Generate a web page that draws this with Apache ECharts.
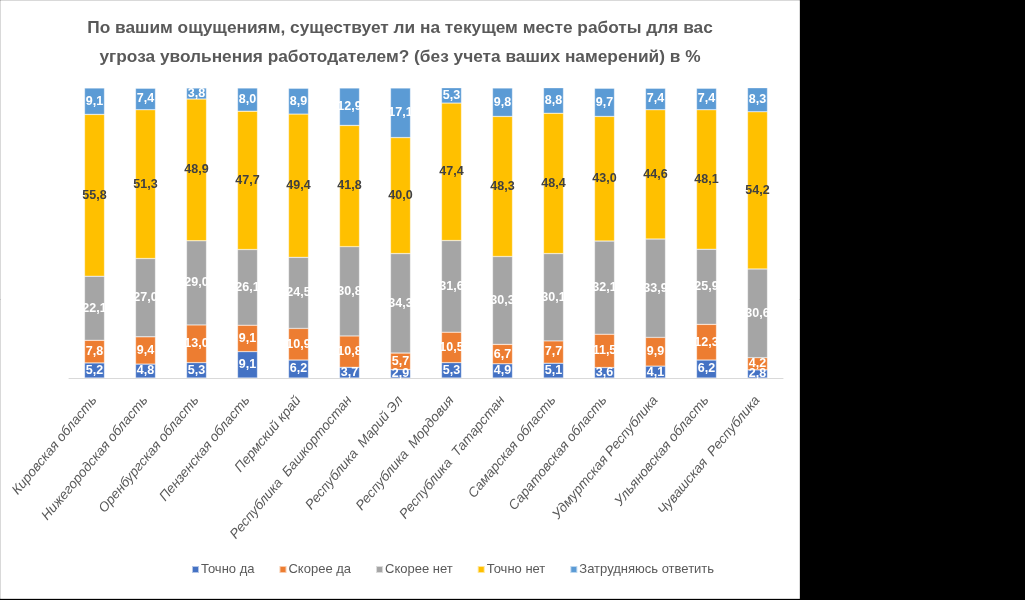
<!DOCTYPE html>
<html>
<head>
<meta charset="utf-8">
<script src="https://cdn.jsdelivr.net/npm/echarts@6/dist/echarts.min.js"></script>
<style>
  html, body { margin: 0; padding: 0; background: #000; }
  #chart { position: absolute; left: 0; top: 0; width: 1025px; height: 600px; }
</style>
</head>
<body>
<div id="chart"></div>
<script>
const categories = ['Кировская область','Нижегородская область','Оренбургская область','Пензенская область','Пермский край','Республика  Башкортостан','Республика  Марий Эл','Республика  Мордовия','Республика  Татарстан','Самарская область','Саратовская область','Удмуртская Республика','Ульяновская область','Чувашская  Республика'];
const seriesNames = ['Точно да','Скорее да','Скорее нет','Точно нет','Затрудняюсь ответить'];
const tochnoDa      = [5.2, 4.8, 5.3, 9.1, 6.2, 3.7, 2.9, 5.3, 4.9, 5.1, 3.6, 4.1, 6.2, 2.8];
const skoreeDa      = [7.8, 9.4, 13.0, 9.1, 10.9, 10.8, 5.7, 10.5, 6.7, 7.7, 11.5, 9.9, 12.3, 4.2];
const skoreeNet     = [22.1, 27.0, 29.0, 26.1, 24.5, 30.8, 34.3, 31.6, 30.3, 30.1, 32.1, 33.9, 25.9, 30.6];
const tochnoNet     = [55.8, 51.3, 48.9, 47.7, 49.4, 41.8, 40.0, 47.4, 48.3, 48.4, 43.0, 44.6, 48.1, 54.2];
const zatrudnyayus  = [9.1, 7.4, 3.8, 8.0, 8.9, 12.9, 17.1, 5.3, 9.8, 8.8, 9.7, 7.4, 7.4, 8.3];

const values = [tochnoDa, skoreeDa, skoreeNet, tochnoNet, zatrudnyayus];
const colors = ['#4472C4', '#ED7D31', '#A5A5A5', '#FFC000', '#5B9BD5'];
const labelColors = ['#ffffff', '#ffffff', '#ffffff', '#404040', '#ffffff'];
const fmt = v => v.toFixed(1).replace('.', ',');
const FONT = '"Liberation Sans", Arial, sans-serif';

const chart = echarts.init(document.getElementById('chart'));
chart.setOption({
  animation: false,
  backgroundColor: '#000000',
  graphic: [
    { type: 'rect', z: -10, silent: true, shape: { x: 0.5, y: 0.5, width: 799, height: 598 },
      style: { fill: '#ffffff', stroke: '#d9d9d9', lineWidth: 1 } }
  ],
  title: {
    text: 'По вашим ощущениям, существует ли на текущем месте работы для вас\nугроза увольнения работодателем? (без учета ваших намерений) в %',
    left: 395, top: 9, textAlign: 'center',
    textStyle: { fontFamily: FONT, fontSize: 17.3, fontWeight: 'bold', color: '#595959', lineHeight: 29 }
  },
  legend: {
    data: seriesNames,
    left: 186, top: 558,
    icon: 'rect', itemWidth: 7, itemHeight: 7, itemGap: 24,
    textStyle: { fontFamily: FONT, fontSize: 13, color: '#595959', padding: [0, 0, 0, -3] }
  },
  grid: { left: 69, right: 242, top: 88, bottom: 222, containLabel: false },
  xAxis: {
    type: 'category',
    data: categories,
    axisLine: { lineStyle: { color: '#d9d9d9', width: 1 } },
    axisTick: { show: false },
    axisLabel: {
      interval: 0, rotate: 50, margin: 20,
      fontFamily: FONT, fontStyle: 'italic', fontSize: 13.5, color: '#595959'
    }
  },
  yAxis: {
    type: 'value', min: 0, max: 100,
    show: false,
    splitLine: { show: false }
  },
  series: seriesNames.map((name, i) => ({
    name: name,
    type: 'bar',
    stack: 'total',
    barWidth: 20,
    data: values[i],
    itemStyle: { color: colors[i], borderColor: 'rgba(255,255,255,0.6)', borderWidth: 0.5 },
    label: {
      show: true, position: 'inside',
      formatter: p => fmt(p.value),
      fontFamily: FONT, fontSize: 12.5, fontWeight: 'bold', color: labelColors[i]
    }
  }))
});
</script>
</body>
</html>
